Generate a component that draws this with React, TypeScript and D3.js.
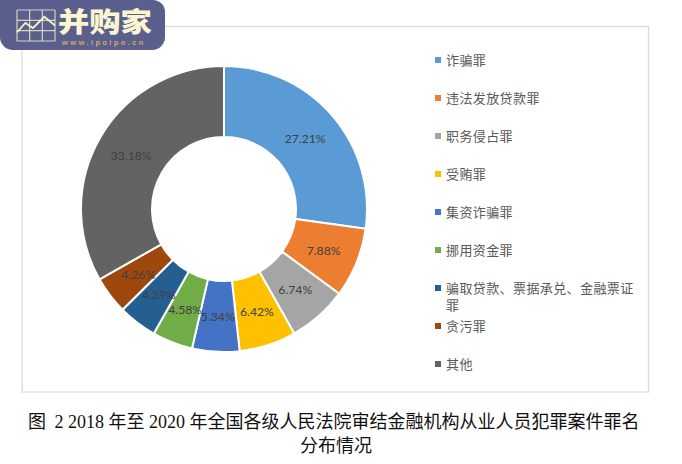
import * as d3 from "d3";

const categories = ["诈骗罪", "违法发放贷款罪", "职务侵占罪", "受贿罪", "集资诈骗罪", "挪用资金罪", "骗取贷款、票据承兑、金融票证罪", "贪污罪", "其他"];
const shares = [27.21, 7.88, 6.74, 6.42, 5.34, 4.58, 4.39, 4.26, 33.18];
const colors = ["#5b9bd5", "#ed7d31", "#a5a5a5", "#ffc000", "#4472c4", "#70ad47", "#255e91", "#9e480e", "#636363"];
const legendLines = [["诈骗罪"], ["违法发放贷款罪"], ["职务侵占罪"], ["受贿罪"], ["集资诈骗罪"], ["挪用资金罪"], ["骗取贷款、票据承兑、金融票证", "罪"], ["贪污罪"], ["其他"]];
const logoCurve = [[0, 0.72], [0.22, 0.42], [0.42, 0.58], [0.72, 0.22], [1, 0.5]];
const logoRows = [0, 1, 2, 3];
const logoCols = [0, 1, 2, 3];

const cx = 224;
const cy = 209;
const outer = 143;
const inner = 72;
const sansCjk = '"Noto Sans CJK SC", sans-serif';
const serifCjk = '"Liberation Serif", "Noto Sans CJK SC", serif';

export default function App() {
  const pie = d3.pie<number>().value((d) => d).sort(null);
  const arc = d3.arc<d3.PieArcDatum<number>>().innerRadius(inner).outerRadius(outer);
  const arcs = pie(shares);
  const legendY = d3.scalePoint<number>().domain(d3.range(9)).range([60, 364]);

  const logoX = d3.scaleLinear().domain([0, 1]).range([17, 55]);
  const logoY = d3.scaleLinear().domain([0, 1]).range([10, 41]);
  const logoLine = d3.line<number[]>().x((d) => logoX(d[0])).y((d) => logoY(d[1]));

  return (
    <svg
      width={682}
      height={464}
      viewBox="0 0 682 464"
      style={{ position: "absolute", left: 0, top: 0, background: "#fff" }}
    >
      <rect x={22} y={26.5} width={626.5} height={365.5} fill="#fff" stroke="#dcdcdc" strokeWidth={1.3} />

      <g transform={`translate(${cx},${cy})`}>
        {arcs.map((a, i) => (
          <path key={categories[i]} d={arc(a) ?? ""} fill={colors[i]} stroke="#fff" strokeWidth={2} />
        ))}
        {arcs.map((a, i) => {
          const [x, y] = arc.centroid(a);
          return (
            <text key={i} x={x} y={y + 5} textAnchor="middle" fontSize={12.2} fontFamily='Lato, "Liberation Sans", sans-serif' fill="#404040">
              {d3.format(".2f")(shares[i])}%
            </text>
          );
        })}
      </g>

      {legendLines.map((lines, i) => (
        <g key={i}>
          <rect x={435} y={legendY(i)! - 3} width={6} height={6} fill={colors[i]} />
          <text y={legendY(i)! + 5} fontSize={13} letterSpacing={0.4} fontFamily={sansCjk} fill="#595959">
            {lines.map((l, j) => (
              <tspan key={j} x={446} dy={j === 0 ? 0 : 17}>
                {l}
              </tspan>
            ))}
          </text>
        </g>
      ))}

      <text x={28} y={428} fontSize={18} fontFamily={serifCjk} fill="#111">图</text>
      <text x={54.5} y={428} fontSize={18} fontFamily={serifCjk} fill="#111">2 2018 年至 2020 年全国各级人民法院审结金融机构从业人员犯罪案件罪名</text>
      <text x={336} y={452} textAnchor="middle" fontSize={18} fontFamily={serifCjk} fill="#111">分布情况</text>

      <path d="M0,0H153a12,12 0 0 1 12,12V37a13,13 0 0 1 -13,13H13a13,13 0 0 1 -13,-13Z" fill="#5a5f8d" />
      <g stroke="#f5f0c8" fill="none" strokeWidth={1.2}>
        {logoRows.map((r) => (
          <line key={r} x1={logoX(0)} x2={logoX(1)} y1={logoY(r / 3)} y2={logoY(r / 3)} strokeOpacity={0.8} />
        ))}
        {logoCols.map((c) => (
          <line key={c} x1={logoX(c / 3)} x2={logoX(c / 3)} y1={logoY(0)} y2={logoY(1)} strokeOpacity={0.8} />
        ))}
        <path d={logoLine(logoCurve) ?? ""} strokeWidth={1.8} />
      </g>
      <text transform="translate(58,31.5) scale(1.16,1)" fontSize={27} fontWeight={900} fontFamily={sansCjk} fill="#fbf6cf">并购家</text>
      <text x={62} y={45} fontSize={7.5} letterSpacing={2.4} fontWeight={700} fontFamily='"Liberation Sans", sans-serif' fill="#d9a95a">www.ipoipo.cn</text>
    </svg>
  );
}
